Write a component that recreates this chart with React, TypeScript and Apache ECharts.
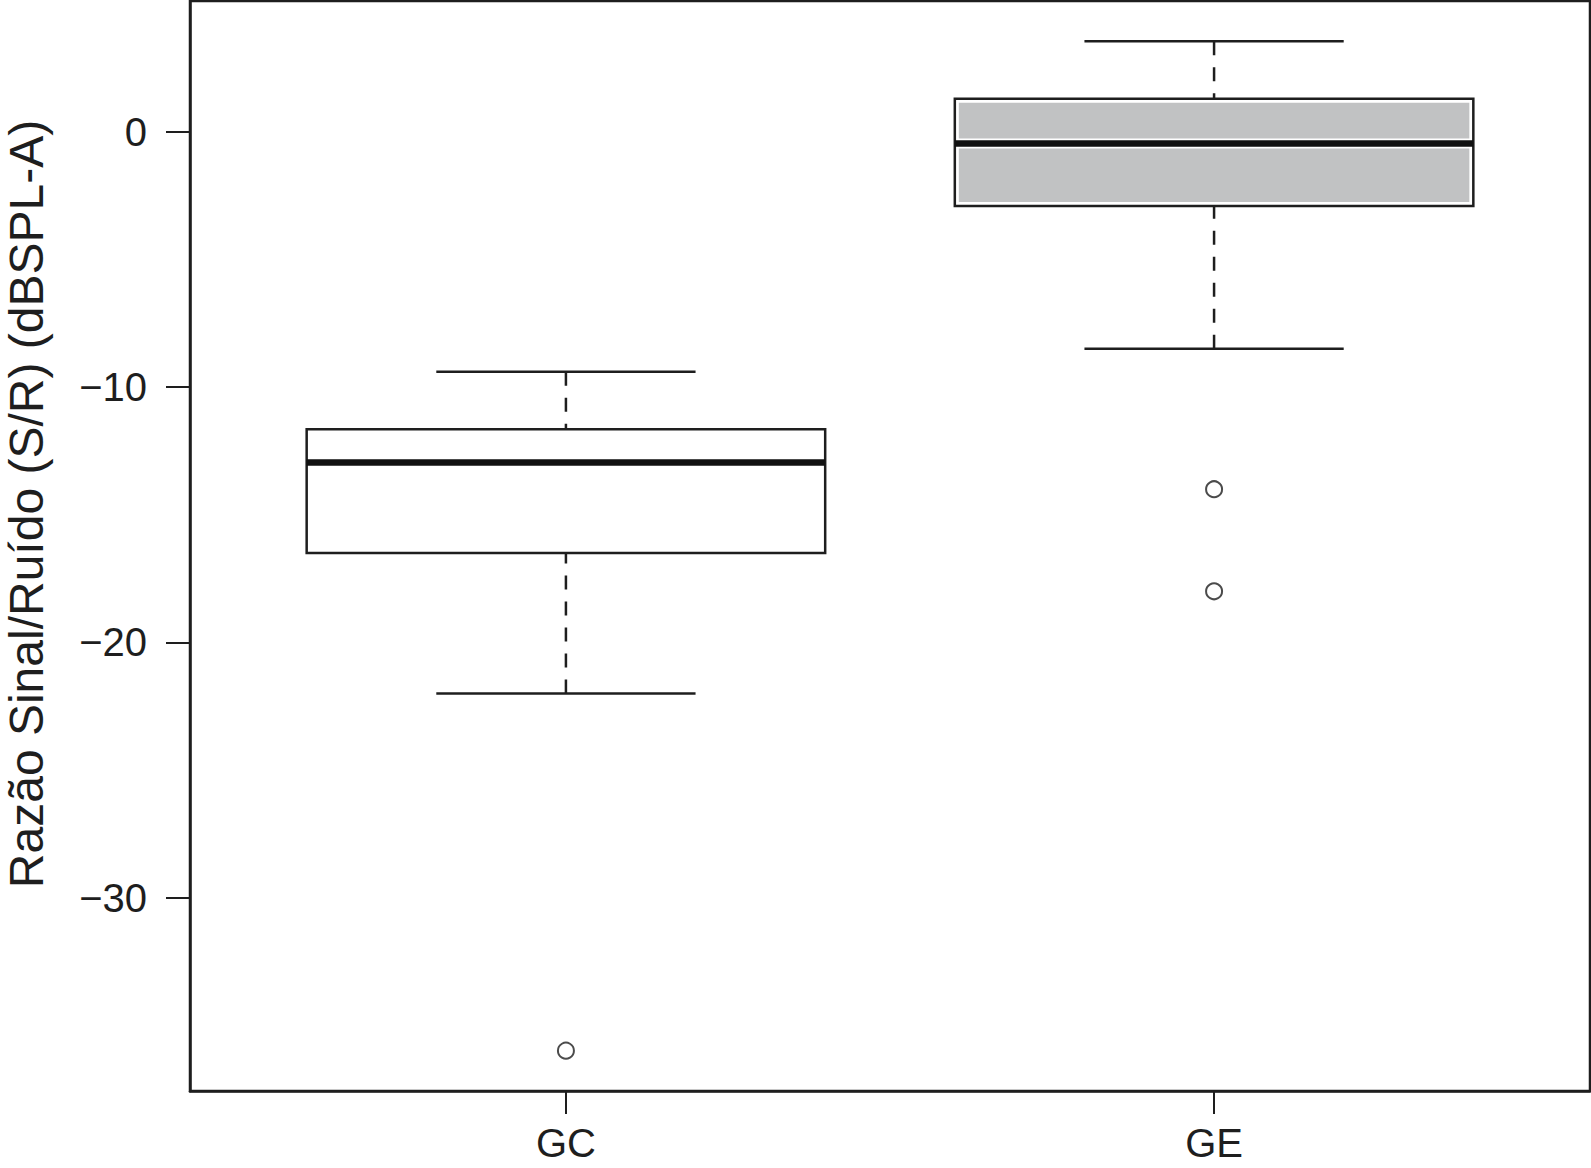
import React, { useEffect, useRef } from "react";
import * as echarts from "echarts";

// ---- data ----
const categories = ["GC", "GE"];
const lowerWhisker = [-22.0, -8.5];
const q1 = [-16.5, -2.9];
const median = [-12.95, -0.45];
const q3 = [-11.65, 1.3];
const upperWhisker = [-9.4, 3.55];
const boxFill = ["#ffffff", "#c1c2c3"];

const outlierGroup = [0, 1, 1];
const outlierValues = [-36.0, -14.0, -18.0];

const yTickValues = [0, -10, -20, -30];
const xTickValues = [1, 2];

const yMin = -37.58;
const yMax = 5.13;
const xMin = 0.42;
const xMax = 2.58;

const yTitle = "Razão Sinal/Ruído (S/R) (dBSPL-A)";

const FONT = "'Liberation Sans', Arial, Helvetica, sans-serif";
const INK = "#1e1e1e";

export default function App() {
  const ref = useRef<HTMLDivElement>(null);

  useEffect(() => {
    if (!ref.current) return;
    const chart = echarts.init(ref.current, undefined, { renderer: "svg" });

    const boxData = categories.map((_, i) => [
      i + 1,
      lowerWhisker[i],
      q1[i],
      median[i],
      q3[i],
      upperWhisker[i],
      i,
    ]);
    const outlierData = outlierValues.map((v, i) => [outlierGroup[i] + 1, v]);

    const renderItem = (params: any, api: any) => {
      const x = api.value(0);
      const idx = api.value(6);
      const pLow = api.coord([x, api.value(1)]);
      const pQ1 = api.coord([x, api.value(2)]);
      const pMed = api.coord([x, api.value(3)]);
      const pQ3 = api.coord([x, api.value(4)]);
      const pHigh = api.coord([x, api.value(5)]);
      const cx = pMed[0];
      const halfW = api.size([0.4, 0])[0];
      const capHalf = api.size([0.2, 0])[0];
      const lineStyle = { stroke: INK, lineWidth: 2.5 };
      const dashStyle = { stroke: INK, lineWidth: 2.5, lineDash: [14, 12] };
      const children: any[] = [];
      children.push({
        type: "line",
        shape: { x1: cx, y1: pHigh[1], x2: cx, y2: pQ3[1] },
        style: dashStyle,
      });
      children.push({
        type: "line",
        shape: { x1: cx, y1: pLow[1], x2: cx, y2: pQ1[1] },
        style: dashStyle,
      });
      children.push({
        type: "line",
        shape: { x1: cx - capHalf, y1: pHigh[1], x2: cx + capHalf, y2: pHigh[1] },
        style: lineStyle,
      });
      children.push({
        type: "line",
        shape: { x1: cx - capHalf, y1: pLow[1], x2: cx + capHalf, y2: pLow[1] },
        style: lineStyle,
      });
      children.push({
        type: "rect",
        shape: { x: cx - halfW, y: pQ3[1], width: 2 * halfW, height: pQ1[1] - pQ3[1] },
        style: { fill: "#ffffff", stroke: INK, lineWidth: 2.5 },
      });
      const fill = boxFill[idx];
      if (fill !== "#ffffff") {
        const inset = 4;
        children.push({
          type: "rect",
          shape: {
            x: cx - halfW + inset,
            y: pQ3[1] + inset,
            width: 2 * halfW - 2 * inset,
            height: pMed[1] - 5 - (pQ3[1] + inset),
          },
          style: { fill },
        });
        children.push({
          type: "rect",
          shape: {
            x: cx - halfW + inset,
            y: pMed[1] + 5,
            width: 2 * halfW - 2 * inset,
            height: pQ1[1] - inset - (pMed[1] + 5),
          },
          style: { fill },
        });
      }
      children.push({
        type: "line",
        shape: { x1: cx - halfW, y1: pMed[1], x2: cx + halfW, y2: pMed[1] },
        style: { stroke: "#111111", lineWidth: 6.5 },
      });
      return { type: "group", children };
    };

    chart.setOption({
      animation: false,
      backgroundColor: "#ffffff",
      grid: {
        left: 190,
        right: 1,
        top: 1,
        bottom: 77,
        show: true,
        borderColor: INK,
        borderWidth: 2.5,
        backgroundColor: "transparent",
      },
      xAxis: {
        type: "value",
        min: xMin,
        max: xMax,
        axisLine: { show: true, onZero: false, lineStyle: { color: INK, width: 2.5 } },
        splitLine: { show: false },
        axisTick: {
          show: true,
          inside: false,
          length: 23,
          customValues: xTickValues,
          lineStyle: { color: INK, width: 2 },
        },
        axisLabel: {
          show: true,
          customValues: xTickValues,
          margin: 32,
          fontSize: 40,
          fontFamily: FONT,
          color: INK,
          formatter: (v: number) => categories[Math.round(v) - 1] ?? "",
        },
      },
      yAxis: {
        type: "value",
        min: yMin,
        max: yMax,
        axisLine: { show: true, onZero: false, lineStyle: { color: INK, width: 2.5 } },
        splitLine: { show: false },
        axisTick: {
          show: true,
          inside: false,
          length: 24,
          customValues: yTickValues,
          lineStyle: { color: INK, width: 2 },
        },
        axisLabel: {
          show: true,
          customValues: yTickValues,
          margin: 43,
          fontSize: 40,
          fontFamily: FONT,
          color: INK,
          formatter: (v: number) => (v < 0 ? "\u2212" + Math.abs(v) : String(v)),
        },
      },
      graphic: [
        {
          type: "text",
          x: 50,
          y: 504,
          rotation: Math.PI / 2,
          style: {
            text: yTitle,
            fontSize: 48,
            fontFamily: FONT,
            fill: INK,
            align: "center",
            verticalAlign: "bottom",
          },
        },
      ],
      series: [
        {
          type: "custom",
          renderItem,
          data: boxData,
          encode: { x: 0, y: [1, 2, 3, 4, 5] },
          clip: false,
          z: 2,
        },
        {
          type: "scatter",
          data: outlierData,
          symbol: "circle",
          symbolSize: 16,
          itemStyle: { color: "#ffffff", borderColor: INK, borderWidth: 2 },
          z: 3,
        },
      ],
    });

    return () => chart.dispose();
  }, []);

  return (
    <div
      ref={ref}
      style={{ position: "fixed", left: 0, top: 0, width: 1591, height: 1168, background: "#fff" }}
    />
  );
}
